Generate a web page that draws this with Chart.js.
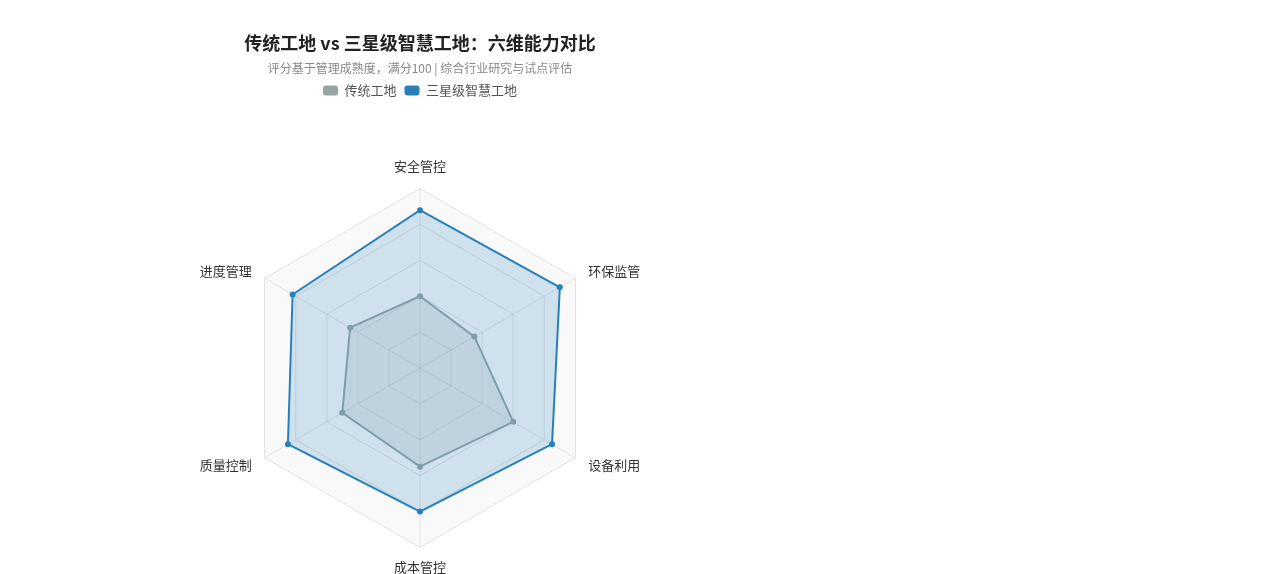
<!DOCTYPE html>
<html lang="zh-CN">
<head>
<meta charset="utf-8">
<title>传统工地 vs 三星级智慧工地</title>
<script src="https://cdn.jsdelivr.net/npm/chart.js@4/dist/chart.umd.min.js"></script>
<style>
  html, body { margin: 0; padding: 0; background: #ffffff; overflow: hidden; }
  #wrap { position: relative; width: 840px; height: 578px; }
</style>
</head>
<body>
<div id="wrap"><canvas id="radarChart"></canvas></div>
<script>
// six dimensions and scores (0-100)
const dimensions = ["安全管控", "环保监管", "设备利用", "成本管控", "质量控制", "进度管理"];
const traditionalScores = [40, 35, 60, 55, 50, 45];
const smartScores = [88, 90, 85, 80, 85, 82];
const seriesNames = ["传统工地", "三星级智慧工地"];

const FONT = "'Noto Sans CJK SC', 'Noto Sans', sans-serif";

// push the plot down below the legend
const legendGap = {
  id: "legendGap",
  beforeInit(chart) {
    const origFit = chart.legend.fit;
    chart.legend.fit = function () {
      origFit.bind(chart.legend)();
      this.height += 50;
    };
  }
};

// side labels sit vertically centred on their spoke
const isSide = i => i !== 0 && i !== 3;

const ctx = document.getElementById("radarChart").getContext("2d");

new Chart(ctx, {
  type: "radar",
  data: {
    labels: dimensions,
    datasets: [
      {
        label: seriesNames[0],
        data: traditionalScores,
        borderColor: "#95a5a6",
        backgroundColor: "rgba(149, 165, 166, 0.2)",
        pointBackgroundColor: "#95a5a6",
        pointBorderWidth: 0,
        pointRadius: 3,
        borderWidth: 2,
        order: 1
      },
      {
        label: seriesNames[1],
        data: smartScores,
        borderColor: "#2980b9",
        backgroundColor: "rgba(41, 128, 185, 0.2)",
        pointBackgroundColor: "#2980b9",
        pointBorderWidth: 0,
        pointRadius: 3,
        borderWidth: 2,
        order: 0
      }
    ]
  },
  options: {
    responsive: true,
    maintainAspectRatio: false,
    animation: false,
    layout: { padding: 0 },
    plugins: {
      title: {
        display: true,
        text: "传统工地 vs 三星级智慧工地：六维能力对比",
        color: "#222222",
        font: { family: FONT, size: 18, weight: "bold" },
        padding: { top: 32, bottom: 4 }
      },
      subtitle: {
        display: true,
        text: "评分基于管理成熟度，满分100 | 综合行业研究与试点评估",
        color: "#888888",
        font: { family: FONT, size: 12 },
        padding: { top: 4, bottom: 0 }
      },
      legend: {
        position: "top",
        labels: {
          color: "#555555",
          font: { family: FONT, size: 13 },
          boxWidth: 15,
          boxHeight: 10,
          padding: 8,
          useBorderRadius: true,
          borderRadius: 3,
          sort: (a, b) => a.datasetIndex - b.datasetIndex,
          generateLabels(chart) {
            return chart.data.datasets.map((ds, i) => ({
              text: ds.label,
              fillStyle: ds.borderColor,
              strokeStyle: ds.borderColor,
              lineWidth: 0,
              fontColor: "#555555",
              hidden: !chart.isDatasetVisible(i),
              datasetIndex: i,
              borderRadius: 3
            }));
          }
        }
      },
      tooltip: { enabled: true }
    },
    scales: {
      r: {
        min: 0,
        max: 100,
        backgroundColor: "#f9f9f9",
        ticks: { display: false, stepSize: 20 },
        grid: { color: "#e2e2e2", lineWidth: 1 },
        angleLines: { color: "#e2e2e2", lineWidth: 1 },
        pointLabels: {
          color: "#333333",
          padding: c => (c.index === 3 ? 12 : 15),
          font: c => ({
            family: FONT,
            size: 13,
            lineHeight: isSide(c.index) ? 0.01 : 1.2
          })
        }
      }
    }
  },
  plugins: [legendGap]
});
</script>
</body>
</html>
